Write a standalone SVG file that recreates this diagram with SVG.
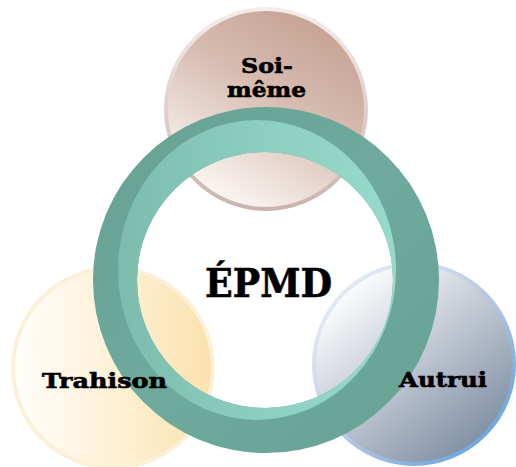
<svg xmlns="http://www.w3.org/2000/svg" width="516" height="467" viewBox="0 0 516 467">
  <defs>
    <linearGradient id="gPink" x1="0.85" y1="0" x2="0.25" y2="1">
      <stop offset="0" stop-color="#c29d8e"/>
      <stop offset="0.45" stop-color="#d6bcb0"/>
      <stop offset="1" stop-color="#fefbfa"/>
    </linearGradient>
    <linearGradient id="gPinkRim" x1="0" y1="0" x2="0" y2="1">
      <stop offset="0" stop-color="#f3ecea"/>
      <stop offset="1" stop-color="#c9b5ae"/>
    </linearGradient>
    <linearGradient id="gYellow" x1="0" y1="0" x2="1" y2="0">
      <stop offset="0" stop-color="#fffefb"/>
      <stop offset="0.6" stop-color="#fdeecf"/>
      <stop offset="1" stop-color="#fbe1ac"/>
    </linearGradient>
    <linearGradient id="gBlue" x1="0.15" y1="0.1" x2="0.85" y2="0.95">
      <stop offset="0" stop-color="#ffffff"/>
      <stop offset="0.5" stop-color="#bcc4cf"/>
      <stop offset="1" stop-color="#7a8aa0"/>
    </linearGradient>
    <linearGradient id="gBlueRim" x1="0" y1="0" x2="1" y2="1">
      <stop offset="0" stop-color="#f4f6fa"/>
      <stop offset="0.55" stop-color="#b3c4e2"/>
      <stop offset="1" stop-color="#4f9bdc"/>
    </linearGradient>
    <linearGradient id="gDark" x1="0" y1="0" x2="1" y2="1">
      <stop offset="0" stop-color="#66a092"/>
      <stop offset="0.5" stop-color="#6eab9c"/>
      <stop offset="1" stop-color="#67a294"/>
    </linearGradient>
    <linearGradient id="gLight" x1="0" y1="0" x2="1" y2="0">
      <stop offset="0" stop-color="#7dbcad"/>
      <stop offset="0.6" stop-color="#8fd1c1"/>
      <stop offset="1" stop-color="#96dac9"/>
    </linearGradient>
  </defs>
  <style>
    .lbl { font-family: "DejaVu Serif", "Liberation Serif", serif; font-weight: bold; fill: #000000; stroke: #000000; stroke-width: 0.6; }
  </style>

  <rect x="0" y="0" width="516" height="467" fill="#ffffff"/>

  <!-- top circle -->
  <g id="soi-meme">
    <circle cx="266" cy="109" r="100" fill="url(#gPink)" stroke="url(#gPinkRim)" stroke-width="4"/>
  </g>

  <!-- lower left circle -->
  <g id="trahison">
    <circle cx="113" cy="368" r="100" fill="url(#gYellow)" stroke="#fbf0d8" stroke-width="4"/>
  </g>

  <!-- lower right circle -->
  <g id="autrui">
    <circle cx="414" cy="364" r="100" fill="url(#gBlue)" stroke="url(#gBlueRim)" stroke-width="4"/>
  </g>

  <!-- central ring: outer band plus lighter inner wall -->
  <g id="epmd">
    <path fill="url(#gDark)" fill-rule="evenodd"
          d="M 93 280 a 173 173 0 1 0 346 0 a 173 173 0 1 0 -346 0 Z
             M 137 280 a 128 128 0 1 0 256 0 a 128 128 0 1 0 -256 0 Z"/>
    <path fill="url(#gLight)" fill-rule="evenodd"
          d="M 118 270 a 139 150 0 1 0 278 0 a 139 150 0 1 0 -278 0 Z
             M 137 280 a 128 128 0 1 0 256 0 a 128 128 0 1 0 -256 0 Z"/>
  </g>

  <!-- connectors: none drawn -->
  <g id="connectors"></g>

  <!-- labels -->
  <g id="labels">
    <text class="lbl" x="241" y="73" font-size="21" textLength="52" lengthAdjust="spacingAndGlyphs">Soi-</text>
    <text class="lbl" x="227" y="97" font-size="21" textLength="79" lengthAdjust="spacingAndGlyphs">même</text>
    <text class="lbl" x="205" y="297" font-size="39" textLength="127" lengthAdjust="spacingAndGlyphs">ÉPMD</text>
    <text class="lbl" x="42" y="388" font-size="20" textLength="125" lengthAdjust="spacingAndGlyphs">Trahison</text>
    <text class="lbl" x="399" y="387" font-size="20" textLength="88" lengthAdjust="spacingAndGlyphs">Autrui</text>
  </g>
</svg>
